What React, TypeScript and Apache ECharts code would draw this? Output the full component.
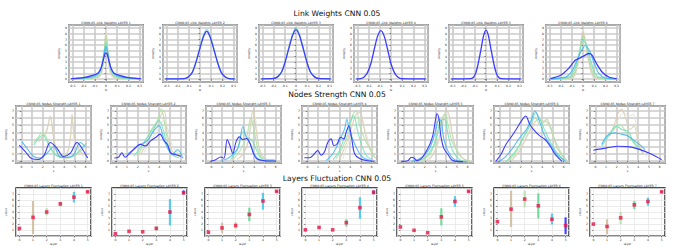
import React, { useEffect, useRef } from 'react';
import * as echarts from 'echarts';

// ---------- palette (oldest run -> newest run) ----------
const runColors = ['#e2e2dc', '#d8cdae', '#abe0a5', '#72e2b8', '#3fb4f2', '#3b3bff'];
const errColors = ['#d6c8a8', '#cdbb9a', '#b5dea6', '#5fd68e', '#3fc6ea', '#2626ff'];

// ---------- Link Weights (row 1) ----------
const lw1Grey = [[-0.31,0.02],[-0.08,0.15],[-0.045,0.7],[-0.025,2.4],[-0.012,5.4],[0,8.8],[0.012,5.4],[0.025,2.4],[0.045,0.7],[0.08,0.15],[0.31,0.02]];
const lw1Beige = [[-0.31,0.02],[-0.09,0.2],[-0.05,0.8],[-0.03,2.3],[-0.015,5.0],[0,8.2],[0.015,5.0],[0.03,2.3],[0.05,0.8],[0.09,0.2],[0.31,0.02]];
const lw1Green = [[-0.31,0.03],[-0.1,0.25],[-0.06,0.8],[-0.035,2.2],[-0.017,4.8],[0,7.5],[0.017,4.8],[0.035,2.2],[0.06,0.8],[0.1,0.25],[0.31,0.03]];
const lw1Aqua = [[-0.31,0.05],[-0.12,0.3],[-0.07,0.8],[-0.04,2.0],[-0.02,4.2],[0,6.4],[0.02,4.2],[0.04,2.0],[0.07,0.8],[0.12,0.3],[0.31,0.05]];
const lw1Sky = [[-0.31,0.05],[-0.15,0.3],[-0.08,0.8],[-0.05,1.6],[-0.03,3.0],[-0.012,4.9],[0,5.7],[0.012,4.9],[0.03,3.0],[0.05,1.6],[0.08,0.8],[0.15,0.3],[0.31,0.05]];
const lw1Blue = [[-0.31,0.09],[-0.2,0.26],[-0.12,0.65],[-0.07,1.1],[-0.045,1.9],[-0.025,3.3],[-0.01,4.4],[0,4.6],[0.01,4.4],[0.025,3.3],[0.045,1.9],[0.07,1.1],[0.12,0.65],[0.2,0.26],[0.31,0.09]];

const lw2Green = [[-0.31,0.05],[-0.14,0.1],[-0.105,0.38],[-0.07,1.2],[-0.04,2.8],[-0.005,5.3],[0.03,7.7],[0.06,8.8],[0.09,7.7],[0.125,5.3],[0.16,2.8],[0.19,1.2],[0.225,0.38],[0.26,0.1],[0.31,0.05]];
const lw2Blue = [[-0.31,0.05],[-0.14,0.09],[-0.105,0.37],[-0.07,1.14],[-0.04,2.7],[-0.005,5.1],[0.03,7.4],[0.06,8.4],[0.09,7.4],[0.125,5.1],[0.16,2.7],[0.19,1.14],[0.225,0.37],[0.26,0.09],[0.31,0.05]];

const lw3Green = [[-0.31,0.05],[-0.2,0.12],[-0.165,0.42],[-0.13,1.25],[-0.1,2.9],[-0.065,5.5],[-0.03,7.95],[0,9.0],[0.03,7.95],[0.065,5.5],[0.1,2.9],[0.13,1.25],[0.165,0.42],[0.2,0.12],[0.31,0.05]];
const lw3Blue = [[-0.31,0.05],[-0.2,0.12],[-0.165,0.4],[-0.13,1.2],[-0.1,2.8],[-0.065,5.3],[-0.03,7.7],[0,8.7],[0.03,7.7],[0.065,5.3],[0.1,2.8],[0.13,1.2],[0.165,0.4],[0.2,0.12],[0.31,0.05]];

const lw4Blue = [[-0.31,0.06],[-0.27,0.1],[-0.24,0.38],[-0.21,1.15],[-0.18,2.7],[-0.15,5.2],[-0.12,7.5],[-0.09,8.5],[-0.06,7.5],[-0.03,5.2],[0,2.7],[0.03,1.15],[0.06,0.38],[0.09,0.1],[0.31,0.05]];

const lw5Blue = [[-0.31,0.05],[-0.135,0.1],[-0.11,0.38],[-0.09,1.15],[-0.07,2.7],[-0.045,5.2],[-0.022,7.6],[0,8.6],[0.022,7.6],[0.045,5.2],[0.07,2.7],[0.09,1.15],[0.11,0.38],[0.135,0.1],[0.31,0.05]];

const lw6Grey = [[-0.29,0.03],[-0.09,0.2],[-0.06,1.2],[-0.03,4.2],[-0.01,7.6],[0,8.9],[0.012,7.8],[0.04,4.2],[0.07,1.2],[0.1,0.2],[0.3,0.03]];
const lw6Beige = [[-0.29,0.03],[-0.1,0.25],[-0.065,1.3],[-0.035,4.0],[-0.012,7.2],[0,8.3],[0.015,7.3],[0.045,4.0],[0.075,1.3],[0.11,0.25],[0.3,0.03]];
const lw6Green = [[-0.29,0.03],[-0.11,0.3],[-0.07,1.4],[-0.04,3.8],[-0.015,6.6],[0,7.6],[0.02,6.7],[0.05,3.8],[0.085,1.3],[0.12,0.3],[0.3,0.03]];
const lw6Aqua = [[-0.29,0.05],[-0.12,0.4],[-0.08,1.5],[-0.045,3.6],[-0.015,6.0],[0,6.8],[0.03,6.0],[0.065,3.5],[0.1,1.3],[0.14,0.35],[0.3,0.05]];
const lw6Sky = [[-0.29,0.05],[-0.15,0.4],[-0.1,1.4],[-0.06,3.0],[-0.02,4.8],[0.02,5.9],[0.06,4.9],[0.1,2.8],[0.14,1.0],[0.2,0.2],[0.3,0.05]];
const lw6Blue = [[-0.29,0.09],[-0.2,0.68],[-0.13,1.85],[-0.07,3.32],[-0.025,3.74],[0.02,4.21],[0.05,4.5],[0.08,4.21],[0.12,2.74],[0.17,1.26],[0.23,0.38],[0.3,0.09]];

// ---------- Nodes Strength (row 2) ----------
const ns1Grey = [[1.77,3.13],[2.24,4.04],[2.7,5.87],[3.17,2.21],[3.79,0.61],[4.42,1.76],[4.73,5.64],[5.04,2.21],[5.82,0.61]];
const ns1Beige = [[1.61,2.67],[2.14,3.59],[2.39,4.27],[2.7,6.33],[3.02,3.13],[3.48,0.84],[4.1,0.61],[4.57,3.13],[4.73,6.56],[4.94,3.59],[5.5,1.3],[6.06,0.84]];
const ns1Green = [[1.15,2.53],[1.61,3.36],[1.93,4.04],[2.39,3.13],[2.86,1.53],[3.48,0.61],[4.26,0.39],[5.04,0.84],[5.82,1.76]];
const ns1Aqua = [[1.15,2.21],[1.61,3.13],[2.02,3.59],[2.55,2.21],[3.17,0.84],[3.95,0.48],[4.73,0.61],[5.5,1.53],[6.06,2.44]];
const ns1Sky = [[0.06,2.66],[0.53,1.76],[1.15,0.61],[1.77,0.39],[2.39,1.07],[3.02,1.99],[3.64,0.52],[4.26,0.48],[4.88,0.84],[5.5,2.58],[5.97,1.99]];
const ns1Blue = [[-0.19,2.21],[0.37,1.3],[0.99,0.29],[1.61,0.2],[2.14,0.84],[2.7,2.58],[3.33,1.76],[3.95,0.61],[4.57,1.07],[5.19,2.58],[5.75,1.53],[6.19,0.39]];

const ns2Grey = [[2.56,1.13],[3.19,2.8],[3.82,4.22],[4.4,5.65],[4.76,4.7],[5.24,2.08],[5.87,0.89]];
const ns2Beige = [[2.24,0.89],[2.87,2.56],[3.5,4.46],[4.07,6.13],[4.45,7.08],[4.76,3.75],[5.24,1.36],[5.87,0.65],[6.28,0.41]];
const ns2Green = [[1.93,0.65],[2.56,2.32],[3.19,4.22],[3.82,5.65],[4.2,7.31],[4.51,5.17],[4.92,1.84],[5.4,0.65],[6.03,1.13]];
const ns2Aqua = [[1.61,0.65],[2.24,1.84],[2.87,3.27],[3.5,4.7],[3.98,5.65],[4.4,4.22],[4.76,2.08],[5.24,0.89],[5.87,0.41]];
const ns2Sky = [[0.98,0.89],[1.61,1.6],[2.24,2.32],[2.87,2.8],[3.5,4.22],[3.98,4.94],[4.4,3.27],[4.76,1.84],[5.24,0.89],[5.71,1.6],[6.19,0.41]];
const ns2Blue = [[-0.19,0.41],[0.2,0.5],[0.51,1.13],[0.82,0.51],[1.3,1.13],[1.77,1.84],[2.24,2.32],[2.72,2.08],[3.19,2.8],[3.66,3.27],[4.07,3.75],[4.45,2.8],[4.76,2.32],[5.08,1.13],[5.55,0.89],[6.03,0.65]];

const ns3Grey = [[2.7,0.55],[3.3,1.96],[3.76,5.25],[4.07,6.19],[4.37,2.43],[4.83,0.55],[5.43,0.17]];
const ns3Beige = [[2.39,0.17],[3.0,1.02],[3.46,2.9],[3.76,6.43],[3.91,7.13],[4.13,4.78],[4.52,1.49],[4.98,0.31],[5.59,0.08]];
const ns3Green = [[2.09,0.31],[2.7,1.49],[3.3,3.37],[3.67,5.96],[3.98,4.31],[4.37,1.49],[4.83,0.31],[5.43,0.17],[6.04,0.08]];
const ns3Aqua = [[1.78,0.17],[2.39,1.49],[2.94,4.08],[3.3,3.37],[3.76,2.9],[4.22,1.49],[4.67,0.31],[5.28,0.08],[5.89,0.17]];
const ns3Sky = [[0.87,0.08],[1.48,0.31],[2.09,1.02],[2.54,1.96],[2.94,4.78],[3.24,3.37],[3.61,2.43],[4.07,0.78],[4.52,0.17],[5.13,-0.02],[5.89,-0.02]];
const ns3Blue = [[-0.04,-0.02],[0.41,0.17],[0.87,0.55],[1.17,0.36],[1.48,3.0],[1.72,2.2],[2.0,1.02],[2.3,2.67],[2.63,3.37],[2.94,3.0],[3.3,3.13],[3.61,2.43],[3.91,1.11],[4.22,0.31],[4.67,0.08],[5.28,-0.02],[6.04,-0.02]];

const ns4Grey = [[3.31,0.32],[3.94,2.85],[4.56,4.77],[5.03,6.0],[5.44,4.0],[5.97,1.46]];
const ns4Beige = [[3.0,0.16],[3.62,2.38],[4.19,5.0],[4.56,6.54],[4.94,6.77],[5.25,4.77],[5.66,2.38],[6.13,1.0],[6.38,0.32]];
const ns4Green = [[2.69,0.32],[3.31,1.93],[3.88,4.23],[4.25,6.54],[4.56,7.0],[4.88,5.0],[5.34,3.08],[5.81,1.7],[6.28,0.44]];
const ns4Aqua = [[2.38,0.16],[3.0,1.46],[3.56,3.77],[3.94,5.25],[4.31,6.31],[4.72,4.0],[5.13,1.93],[5.56,0.63],[6.13,0.16]];
const ns4Sky = [[1.75,0.04],[2.38,1.0],[3.0,2.85],[3.47,4.46],[3.69,5.85],[3.94,4.23],[4.41,2.4],[4.88,1.0],[5.34,0.32],[5.97,0.04]];
const ns4Blue = [[-0.28,0.44],[0.19,0.44],[0.66,1.0],[0.97,1.46],[1.28,0.79],[1.59,1.23],[1.91,2.61],[2.22,3.08],[2.47,2.15],[2.78,2.4],[3.09,3.31],[3.41,3.08],[3.62,4.0],[3.88,4.92],[4.12,3.31],[4.41,1.0],[4.88,0.32],[5.5,0.04],[6.28,-0.05]];

const ns5Grey = [[2.46,0.17],[3.08,1.82],[3.65,4.64],[4.01,6.75],[4.39,5.11],[4.79,2.29],[5.41,0.64]];
const ns5Beige = [[2.14,0.03],[2.77,0.88],[3.33,3.23],[3.76,6.05],[4.01,6.99],[4.26,6.52],[4.57,3.7],[5.01,1.35],[5.57,0.31],[6.25,-0.07]];
const ns5Green = [[1.68,0.03],[2.46,0.88],[3.02,2.76],[3.54,5.58],[3.86,6.52],[4.17,5.11],[4.48,3.0],[4.94,1.58],[5.5,0.41],[6.19,-0.07]];
const ns5Aqua = [[1.21,-0.07],[1.99,0.41],[2.61,1.58],[3.08,3.23],[3.45,5.58],[3.86,5.82],[4.17,3.7],[4.63,1.35],[5.26,0.17],[6.03,-0.1]];
const ns5Sky = [[0.74,-0.07],[1.37,0.2],[1.99,0.88],[2.46,1.82],[2.92,3.7],[3.33,5.82],[3.54,5.58],[3.76,3.23],[4.17,1.35],[4.79,0.17],[5.88,-0.1]];
const ns5Blue = [[-0.19,-0.07],[0.43,0.03],[0.74,0.5],[0.99,0.41],[1.27,0.03],[1.68,0.31],[2.14,1.35],[2.52,2.52],[2.77,3.7],[2.98,5.58],[3.14,6.62],[3.33,5.82],[3.48,3.7],[3.76,1.82],[4.17,0.88],[4.63,0.03],[5.57,-0.1]];

const ns6Grey = [[1.25,0.17],[2.05,2.05],[2.84,4.17],[3.48,5.11],[4.11,4.88],[4.59,5.35],[5.07,3.23],[5.7,1.11]];
const ns6Beige = [[1.09,0.03],[1.89,1.35],[2.52,3.23],[3.16,5.11],[3.64,5.82],[4.11,5.58],[4.43,5.82],[4.9,4.17],[5.39,1.82],[6.02,0.41]];
const ns6Green = [[0.77,0.03],[1.41,0.88],[2.05,2.76],[2.68,4.64],[3.32,6.05],[3.8,5.11],[4.34,5.58],[4.75,4.64],[5.23,2.76],[5.86,0.88],[6.34,0.03]];
const ns6Aqua = [[0.61,-0.07],[1.25,0.88],[1.89,2.29],[2.52,3.94],[3.0,5.35],[3.41,6.76],[3.8,5.82],[4.27,4.17],[4.82,2.52],[5.39,1.11],[6.18,0.03]];
const ns6Sky = [[-0.02,-0.1],[0.61,0.64],[1.25,1.82],[1.89,3.23],[2.52,4.41],[3.0,5.82],[3.32,6.99],[3.74,5.58],[4.18,3.7],[4.75,2.29],[5.39,0.88],[6.18,-0.07]];
const ns6Blue = [[-0.34,-0.1],[0.14,0.88],[0.61,2.29],[1.09,3.32],[1.57,4.41],[2.05,5.58],[2.46,6.29],[2.84,5.11],[3.32,4.17],[3.8,3.47],[4.27,3.0],[4.75,2.05],[5.23,0.88],[5.86,-0.07]];

const ns7Grey = [[1.68,3.93],[2.14,5.82],[2.61,6.76],[3.08,6.29],[3.54,6.52],[3.92,3.93],[4.32,1.58],[4.79,0.64]];
const ns7Beige = [[1.37,3.47],[1.83,5.35],[2.14,6.76],[2.46,7.23],[2.86,5.82],[3.23,4.41],[3.61,4.88],[4.01,2.52],[4.48,0.88]];
const ns7Green = [[1.06,3.0],[1.68,4.41],[2.24,5.11],[2.61,4.64],[3.08,3.47],[3.54,2.76],[4.17,1.58]];
const ns7Aqua = [[0.59,2.05],[1.37,3.93],[1.99,4.88],[2.46,4.41],[3.08,4.11],[3.54,2.62],[4.17,1.58]];
const ns7Sky = [[0.59,2.29],[1.06,3.47],[1.68,3.93],[2.3,3.8],[3.08,3.47],[3.7,2.76],[4.32,2.05],[4.63,1.58]];
const ns7Blue = [[-0.19,1.49],[1.06,1.82],[2.14,2.05],[3.23,1.96],[4.17,1.58],[5.1,1.02],[6.19,0.17]];

// ---------- Layers Fluctuation (row 3): means, lower and upper ends ----------
const lf1Mean = [1.28, 3.12, 4.0, 5.36, 6.48, 7.36];
const lf1Low = [1.2, 0.32, 3.44, 4.96, 5.6, 7.28];
const lf1High = [1.36, 5.84, 4.64, 5.68, 7.36, 7.44];
const lf2Mean = [0.4, 0.8, 0.72, 1.28, 4.0, 7.2];
const lf2Low = [0.32, 0.7, 0.62, 0.96, 1.76, 6.96];
const lf2High = [0.48, 0.9, 0.82, 1.6, 6.16, 7.6];
const lf3Mean = [0.64, 1.36, 1.76, 3.6, 5.84, 7.44];
const lf3Low = [0.56, 0.48, 1.2, 2.48, 4.4, 7.36];
const lf3High = [0.72, 2.24, 2.32, 4.72, 7.2, 7.52];
const lf4Mean = [1.04, 1.44, 1.04, 2.24, 4.72, 7.28];
const lf4Low = [0.96, 1.2, 0.88, 1.6, 2.88, 6.96];
const lf4High = [1.12, 1.6, 1.2, 2.8, 6.48, 7.6];
const lf5Mean = [1.52, 0.96, 0.56, 3.2, 5.76, 7.44];
const lf5Low = [1.44, 0.88, 0.48, 1.76, 4.88, 7.36];
const lf5High = [1.6, 1.04, 0.64, 4.64, 6.64, 7.52];
const lf6Mean = [2.4, 4.48, 6.16, 5.04, 2.8, 1.76];
const lf6Low = [2.32, 1.52, 4.8, 2.96, 1.92, 0.32];
const lf6High = [2.48, 7.52, 7.52, 7.12, 3.76, 3.12];
const lf7Mean = [2.0, 1.6, 3.04, 5.2, 5.76, 7.36];
const lf7Low = [1.92, 0.32, 2.0, 4.48, 5.04, 7.28];
const lf7High = [2.08, 2.8, 4.0, 5.84, 6.4, 7.44];

const row1Runs = [
  [lw1Grey, lw1Beige, lw1Green, lw1Aqua, lw1Sky, lw1Blue],
  [null, null, null, lw2Green, null, lw2Blue],
  [null, null, null, lw3Green, null, lw3Blue],
  [null, null, null, null, null, lw4Blue],
  [null, null, null, null, null, lw5Blue],
  [lw6Grey, lw6Beige, lw6Green, lw6Aqua, lw6Sky, lw6Blue],
];
const row2Runs = [
  [ns1Grey, ns1Beige, ns1Green, ns1Aqua, ns1Sky, ns1Blue],
  [ns2Grey, ns2Beige, ns2Green, ns2Aqua, ns2Sky, ns2Blue],
  [ns3Grey, ns3Beige, ns3Green, ns3Aqua, ns3Sky, ns3Blue],
  [ns4Grey, ns4Beige, ns4Green, ns4Aqua, ns4Sky, ns4Blue],
  [ns5Grey, ns5Beige, ns5Green, ns5Aqua, ns5Sky, ns5Blue],
  [ns6Grey, ns6Beige, ns6Green, ns6Aqua, ns6Sky, ns6Blue],
  [ns7Grey, ns7Beige, ns7Green, ns7Aqua, ns7Sky, ns7Blue],
];
const row3Sets = [
  [lf1Mean, lf1Low, lf1High], [lf2Mean, lf2Low, lf2High], [lf3Mean, lf3Low, lf3High],
  [lf4Mean, lf4Low, lf4High], [lf5Mean, lf5Low, lf5High], [lf6Mean, lf6Low, lf6High],
  [lf7Mean, lf7Low, lf7High],
];

// ---------- layout ----------
const row1Left = [69, 163, 259, 354, 449, 546];
const row2Left = [16, 111, 206, 302, 398, 494, 590];
const row3Left = [16, 112, 205, 302, 397, 494, 590];
const FONT = 'DejaVu Sans';

export default function App() {
  const ref = useRef<HTMLDivElement>(null);
  useEffect(() => {
    if (!ref.current) return;
    const chart = echarts.init(ref.current, null, { renderer: 'svg' });
    const grids: any[] = [];
    const xAxes: any[] = [];
    const yAxes: any[] = [];
    const series: any[] = [];
    const graphics: any[] = [];

    const axisCommon = (gi: number, min: number, max: number, split: number, gridColor: string, gridW: number, name: string, nameGap: number) => ({
      gridIndex: gi, type: 'value', min, max, splitNumber: split,
      axisLine: { show: false },
      axisTick: { show: true, length: 1.5, lineStyle: { color: '#222', width: 0.5 } },
      axisLabel: { fontSize: 3, color: '#222', margin: 2, fontFamily: FONT, showMinLabel: false, showMaxLabel: false },
      splitLine: { show: true, lineStyle: { color: gridColor, width: gridW } },
      name, nameLocation: 'middle', nameGap,
      nameTextStyle: { fontSize: 3, color: '#333', fontFamily: FONT },
    });

    const addGrid = (left: number, top: number, width: number, height: number, title: string) => {
      const gi = grids.length;
      grids.push({ left, top, width, height, show: true, borderColor: '#111', borderWidth: 1.3, backgroundColor: '#fff', containLabel: false });
      graphics.push({ type: 'text', x: left + width / 2, y: top - 2.5, silent: true,
        style: { text: title, fontSize: 3.2, fill: '#222', fontFamily: FONT, align: 'center', verticalAlign: 'middle' } });
      return gi;
    };

    // Row 1
    row1Runs.forEach((runs, i) => {
      const gi = addGrid(row1Left[i], 25, 74, 57, `CNN0.05 Link Weights LAYER ${i + 1}`);
      xAxes.push(axisCommon(gi, -0.33, 0.33, 6, '#cbcbcb', 1.6, 'w', 3.5));
      yAxes.push(axisCommon(gi, -0.5, 9.5, 9, '#cbcbcb', 1.6, 'density', 9));
      runs.forEach((d, k) => {
        if (!d) return;
        series.push({ type: 'line', xAxisIndex: gi, yAxisIndex: gi, data: d, smooth: 0.25, symbol: 'none', silent: true,
          lineStyle: { color: runColors[k], width: k === 5 ? 1.3 : 1.2, opacity: k === 5 ? 1 : 0.85 }, z: 2 + k });
      });
    });

    // Row 2
    row2Runs.forEach((runs, i) => {
      const gi = addGrid(row2Left[i], 106, 75, 57, `CNN0.05 Nodes Strength LAYER ${i + 1}`);
      xAxes.push(axisCommon(gi, -0.5, 6.5, 7, '#cbcbcb', 1.6, 's', 4));
      yAxes.push(axisCommon(gi, -0.3, 7.7, 8, '#cbcbcb', 1.6, 'density', 9));
      runs.forEach((d, k) => {
        series.push({ type: 'line', xAxisIndex: gi, yAxisIndex: gi, data: d, smooth: 0.35, symbol: 'none', silent: true,
          lineStyle: { color: runColors[k], width: 1.1, opacity: k === 5 ? 1 : 0.85 }, z: 2 + k });
      });
    });

    // Row 3
    row3Sets.forEach(([mean, low, high], i) => {
      const gi = addGrid(row3Left[i], 188, 75, 56, `CNN0.05 Layers Fluctuation LAYER ${i + 1}`);
      xAxes.push(axisCommon(gi, -0.25, 5.25, 5, '#e6e6e6', 0.8, 'layer', 5));
      yAxes.push({ ...axisCommon(gi, 0, 8, 8, '#e6e6e6', 0.8, 'value', 9), interval: 1 });
      series.push({
        type: 'custom', xAxisIndex: gi, yAxisIndex: gi, silent: true, z: 3,
        data: mean.map((_, j) => [j, low[j], high[j]]),
        encode: { x: 0, y: [1, 2] },
        renderItem: (params: any, api: any) => {
          const a = api.coord([api.value(0), api.value(1)]);
          const b = api.coord([api.value(0), api.value(2)]);
          return { type: 'line', shape: { x1: a[0], y1: a[1], x2: b[0], y2: b[1] },
            style: { stroke: errColors[params.dataIndex], lineWidth: 2.2, opacity: 0.85 } };
        },
      });
      series.push({ type: 'scatter', xAxisIndex: gi, yAxisIndex: gi, silent: true, z: 4,
        data: mean.map((m, j) => [j, m]), symbol: 'rect', symbolSize: 3.6,
        itemStyle: { color: '#e8194a' } });
    });

    const titles = [
      ['Link Weights CNN 0.05', 13],
      ['Nodes Strength CNN 0.05', 94.5],
      ['Layers Fluctuation CNN 0.05', 178],
    ];
    titles.forEach(([t, y]) => graphics.push({ type: 'text', x: 337, y: y as number, silent: true,
      style: { text: t as string, fontSize: 7.6, fill: '#111', fontFamily: FONT, align: 'center', verticalAlign: 'middle' } }));

    chart.setOption({
      animation: false,
      backgroundColor: '#fff',
      grid: grids, xAxis: xAxes, yAxis: yAxes, series,
      graphic: graphics,
    });
    return () => chart.dispose();
  }, []);
  return <div ref={ref} style={{ position: 'fixed', left: 0, top: 0, width: 674, height: 246, background: '#fff' }} />;
}
